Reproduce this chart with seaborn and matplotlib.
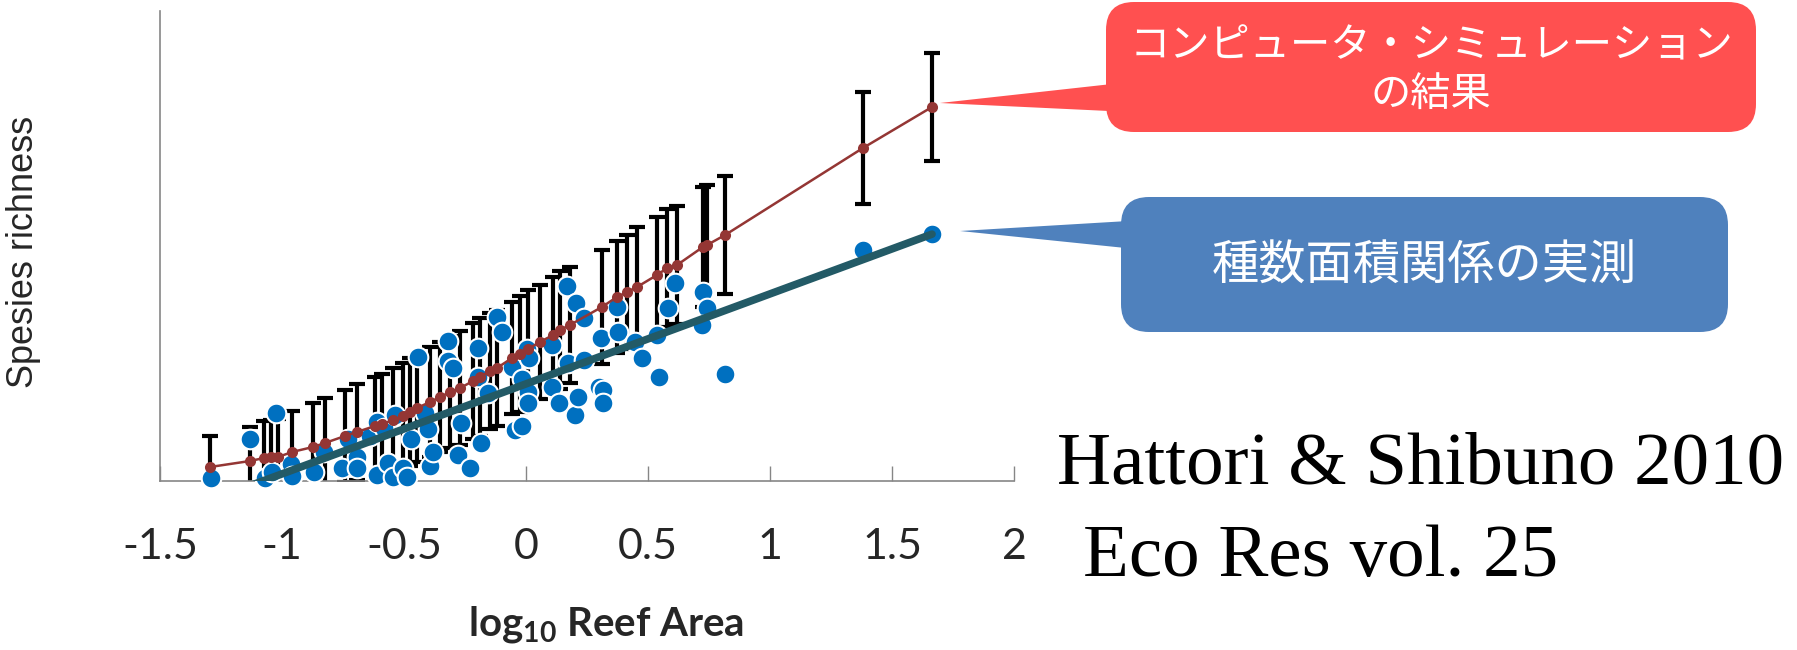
import matplotlib
matplotlib.use('Agg')
import matplotlib.pyplot as plt
from matplotlib.patches import FancyBboxPatch, Polygon
import numpy as np
import pandas as pd
import seaborn as sns

# observed species richness (blue dots), y in arbitrary units (no y ticks on the chart)
obs_x = [-1.291, -1.131, -1.025, -1.070, -1.041, -0.963, -0.959, -0.869, -0.828, -0.754,
         -0.730, -0.693, -0.693, -0.639, -0.611, -0.611, -0.582, -0.566, -0.545, -0.537,
         -0.504, -0.488, -0.471, -0.443, -0.414, -0.402, -0.393, -0.381, -0.320, -0.320,
         -0.299, -0.279, -0.266, -0.230, -0.197, -0.197, -0.156, -0.184, -0.119, -0.098,
         -0.057, -0.045, -0.016, 0.004, 0.012, -0.016, 0.008, 0.008, 0.107, 0.107,
         0.135, 0.172, 0.168, 0.205, 0.238, 0.201, 0.213, 0.238, 0.307, 0.373,
         0.377, 0.299, 0.316, 0.316, 0.447, 0.475, 0.537, 0.545, 0.611, 0.582,
         0.725, 0.742, 0.721, 0.816, 1.381, 1.664]
obs_y = [0.3, 4.2, 6.8, 0.3, 0.9, 1.7, 0.5, 0.9, 2.9, 1.3,
         4.2, 2.4, 1.3, 4.5, 5.9, 0.6, 5.3, 1.8, 0.4, 6.6,
         1.3, 0.4, 4.2, 12.4, 6.8, 5.2, 1.5, 2.9, 14.0, 12.0,
         11.3, 2.6, 5.8, 1.3, 13.3, 10.4, 8.8, 3.8, 16.4, 14.9,
         11.4, 5.1, 5.5, 13.2, 12.3, 10.2, 8.9, 7.8, 13.6, 9.4,
         7.8, 11.8, 19.5, 17.8, 16.3, 6.6, 8.4, 12.1, 14.3, 17.4,
         14.9, 9.4, 9.1, 7.8, 13.9, 12.3, 14.6, 10.4, 19.8, 17.3,
         18.9, 17.3, 15.6, 10.7, 23.1, 24.7]

# computer simulation: mean and sd (red line with error bars)
sim_x = [-1.295, -1.131, -1.074, -1.045, -1.016, -0.959, -0.873, -0.824, -0.742, -0.693,
         -0.619, -0.590, -0.545, -0.504, -0.475, -0.447, -0.393, -0.352, -0.311, -0.270,
         -0.217, -0.189, -0.148, -0.119, -0.057, -0.025, 0.008, 0.057, 0.111, 0.139,
         0.180, 0.311, 0.373, 0.414, 0.455, 0.537, 0.578, 0.619, 0.725, 0.742,
         0.816, 1.381, 1.664]
sim_y = [1.4, 2.0, 2.3, 2.4, 2.4, 2.9, 3.4, 3.8, 4.5, 4.9,
         5.5, 5.7, 6.1, 6.5, 6.9, 7.3, 7.9, 8.4, 8.9, 9.3,
         10.0, 10.4, 11.0, 11.3, 12.3, 12.7, 13.2, 13.9, 14.6, 15.1,
         15.6, 17.4, 18.4, 18.9, 19.4, 20.6, 21.3, 21.6, 23.4, 23.6,
         24.6, 33.3, 37.4]
sim_sd = [3.1, 3.4, 3.7, 3.7, 3.8, 4.1, 4.4, 4.5, 4.6, 4.8,
          4.9, 5.0, 5.2, 5.3, 5.4, 5.4, 5.5, 5.5, 5.6, 5.7,
          5.8, 5.9, 5.8, 5.8, 5.6, 5.8, 5.9, 5.7, 5.8, 5.9,
          5.8, 5.7, 5.6, 5.7, 6.0, 5.8, 5.9, 5.9, 6.0, 6.0,
          5.9, 5.6, 5.4]

# linear trend of the observed data
fit_slope = 9.0
fit_intercept = 9.71

xticks = [-1.5, -1, -0.5, 0, 0.5, 1, 1.5, 2]
xtick_labels = ['-1.5', '-1', '-0.5', '0', '0.5', '1', '1.5', '2']

sim_label = 'コンピュータ・シミュレーション\nの結果'
obs_label = '種数面積関係の実測'
cite_1 = 'Hattori & Shibuno 2010'
cite_2 = 'Eco Res vol. 25'

sns.set_theme(style='white')
plt.rcParams['font.family'] = ['Lato', 'DejaVu Sans']
plt.rcParams['mathtext.fontset'] = 'custom'
plt.rcParams['mathtext.bf'] = 'Lato:bold'
plt.rcParams['mathtext.rm'] = 'Lato'

W, H = 1797, 650
fig = plt.figure(figsize=(W / 100, H / 100), dpi=100)
ax = fig.add_axes([160 / W, 1 - 481 / H, 854 / W, 470 / H])

df_obs = pd.DataFrame({'x': obs_x, 'y': obs_y})
df_sim = pd.DataFrame({'x': sim_x, 'y': sim_y, 'sd': sim_sd})

ax.errorbar(df_sim['x'], df_sim['y'], yerr=df_sim['sd'], fmt='none', ecolor='black',
            elinewidth=3, capsize=6, capthick=3, zorder=2)
sns.scatterplot(data=df_obs, x='x', y='y', ax=ax, color='#0070C0', s=200,
                edgecolor='white', linewidth=1.5, zorder=3, clip_on=False)

fx = np.array([min(obs_x), max(obs_x)])
sns.lineplot(x=fx, y=fit_intercept + fit_slope * fx, ax=ax, color='#235A66',
             linewidth=5.5, zorder=4)
sns.lineplot(data=df_sim, x='x', y='y', ax=ax, sort=False, color='#943634',
             linewidth=1.8, marker='o', markersize=8, markeredgewidth=0, zorder=5)

ax.set_xlim(-1.5, 2)
ax.set_ylim(0, 47)
ax.set_xticks(xticks)
ax.set_xticklabels(xtick_labels)
ax.set_yticks([])
ax.tick_params(axis='x', direction='in', length=11, width=1, color='#868686',
               pad=34, labelsize=31, bottom=True)
for side in ['top', 'right']:
    ax.spines[side].set_visible(False)
for side in ['left', 'bottom']:
    ax.spines[side].set_color('#868686')
    ax.spines[side].set_linewidth(1.2)

ax.set_xlabel(r'log$_{\mathbf{10}}$ Reef Area', fontsize=29, fontweight='bold')
ax.xaxis.set_label_coords(0.522, -0.262)
ax.set_ylabel('Spesies richness', fontsize=26, family=['Liberation Sans', 'DejaVu Sans'])
ax.yaxis.set_label_coords(-0.139, 0.487)

# overlay in pixel coordinates for the callouts and citation
ov = fig.add_axes([0, 0, 1, 1], zorder=10)
ov.set_xlim(0, W)
ov.set_ylim(H, 0)
ov.set_axis_off()

def to_px(x, y):
    return ov.transData.inverted().transform(ax.transData.transform((x, y)))

jp = ['Noto Sans CJK JP', 'DejaVu Sans']

# red callout (simulation)
tip = to_px(sim_x[-1], sim_y[-1]) + np.array([8, -4])
ov.add_patch(Polygon([tip, (1130, 82), (1130, 112)], closed=True, color='#FF5050', lw=0))
ov.add_patch(FancyBboxPatch((1106, 2), 650, 130, boxstyle='round,pad=0,rounding_size=28',
                            fc='#FF5050', ec='none'))
ov.text(1431, 70, sim_label, ha='center', va='center', color='white', fontsize=29,
        family=jp, linespacing=1.25)

# blue callout (observed)
tip = to_px(obs_x[-1], obs_y[-1]) + np.array([28, -3])
ov.add_patch(Polygon([tip, (1145, 220), (1145, 250)], closed=True, color='#4F81BD', lw=0))
ov.add_patch(FancyBboxPatch((1121, 197), 607, 135, boxstyle='round,pad=0,rounding_size=28',
                            fc='#4F81BD', ec='none'))
ov.text(1424, 266, obs_label, ha='center', va='center', color='white', fontsize=34, family=jp)

ov.text(1057, 484, cite_1, ha='left', va='baseline', fontsize=54,
        family=['Liberation Serif', 'DejaVu Serif'], color='black')
ov.text(1083, 576, cite_2, ha='left', va='baseline', fontsize=54,
        family=['Liberation Serif', 'DejaVu Serif'], color='black')

fig.savefig('out.png', dpi=100)
